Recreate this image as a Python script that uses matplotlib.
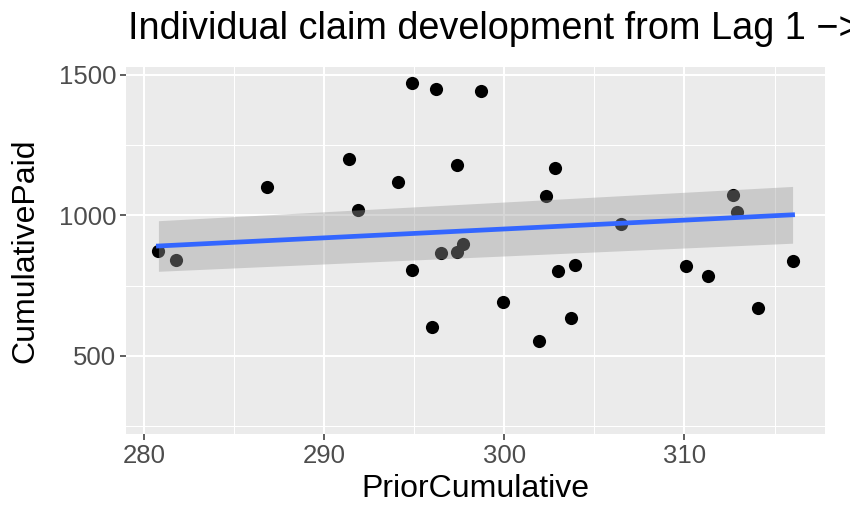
import numpy as np
import matplotlib.pyplot as plt

# PriorCumulative (lag 1) vs CumulativePaid (lag 2)
prior_cumulative = [280.8, 281.8, 286.8, 291.4, 291.9, 294.1, 294.9, 294.9, 296.2, 296.0,
                    297.4, 296.5, 297.4, 297.7, 298.7, 302.8, 302.3, 306.5, 312.7, 312.9,
                    303.0, 303.9, 310.1, 311.3, 316.0, 299.9, 303.7, 301.9, 314.1]
cumulative_paid = [872, 841, 1102, 1202, 1020, 1119, 1472, 806, 1449, 602,
                   1178, 867, 871, 898, 1444, 1168, 1070, 968, 1074, 1012,
                   803, 825, 821, 785, 836, 691, 634, 553, 672]

# fitted smoother and its confidence band, read at the two ends
smooth_x = [280.8, 316.0]
smooth_fit = [891, 1002]
smooth_lower = [801, 901]
smooth_upper = [981, 1103]

x_ticks = [280, 290, 300, 310]
y_ticks = [500, 1000, 1500]
# the title runs past the right edge of the picture, as in the original
title = "Individual claim development from Lag 1 \u2212> 2"

plt.rcParams['font.family'] = ['Liberation Sans', 'DejaVu Sans']

fig = plt.figure(figsize=(8.5, 5.12), dpi=100)
ax = fig.add_axes([126 / 850, 1 - 434 / 512, (825 - 126) / 850, (434 - 67) / 512])
ax.set_facecolor('#EBEBEB')
for sp in ax.spines.values():
    sp.set_visible(False)

ax.set_xlim(279.0, 317.8)
ax.set_ylim(222, 1528)
ax.set_xticks(x_ticks)
ax.set_yticks(y_ticks)
ax.set_xticks([285, 295, 305, 315], minor=True)
ax.set_yticks([250, 750, 1250], minor=True)
ax.grid(True, which='major', color='white', linewidth=1.5)
ax.grid(True, which='minor', color='white', linewidth=0.75)
ax.set_axisbelow(True)
ax.tick_params(which='major', length=4, width=1.1, color='#333333',
               labelsize=18.5, labelcolor='#4D4D4D', pad=3)
ax.tick_params(which='minor', length=0)

ax.scatter(prior_cumulative, cumulative_paid, s=90, color='black', linewidths=0, zorder=2)
ax.fill_between(smooth_x, smooth_lower, smooth_upper, color='#999999',
                alpha=0.4, linewidth=0, zorder=3)
ax.plot(smooth_x, smooth_fit, color='#3366FF', linewidth=3.4, zorder=4)

ax.set_xlabel('PriorCumulative', fontsize=23)
ax.set_ylabel('CumulativePaid', fontsize=23)
ax.xaxis.set_label_coords(0.5, -0.108)
ax.yaxis.set_label_coords(-0.123, 0.5)
fig.text(128 / 850, 1 - 39 / 512, title, fontsize=27.3, ha='left', va='baseline')

fig.savefig('out.png', dpi=100)
